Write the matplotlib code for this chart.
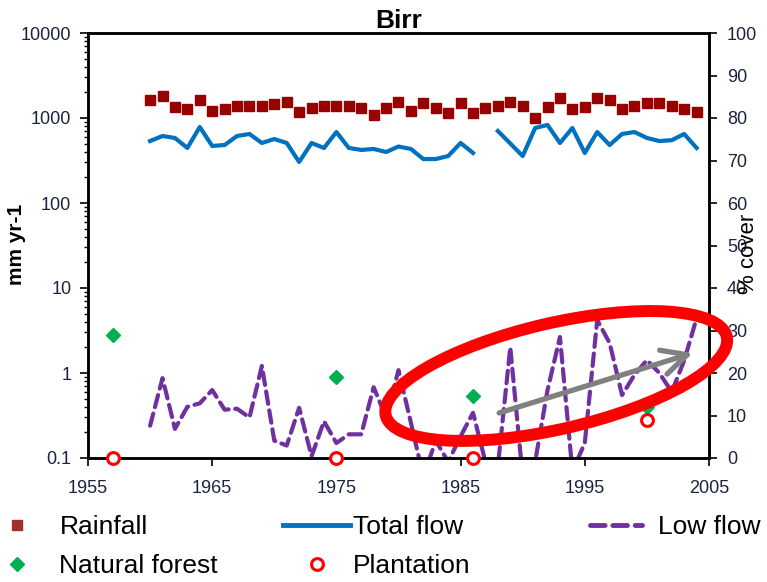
# Birr catchment: rainfall, flows and forest cover
import numpy as np
import matplotlib
matplotlib.use('Agg')
import matplotlib.pyplot as plt
from matplotlib.patches import Ellipse
from matplotlib.lines import Line2D
from matplotlib.transforms import ScaledTranslation

plt.rcParams['font.family'] = ['Liberation Sans', 'DejaVu Sans']

years = list(range(1960, 2005))
rainfall = [1629, 1815, 1347, 1276, 1629, 1209, 1276, 1385, 1385, 1385,
            1461, 1542, 1176, 1311, 1385, 1385, 1385, 1311, 1099, 1311,
            1555, 1209, 1489, 1322, 1154, 1489, 1154, 1322, 1403, 1555,
            1396, 991, 1336, 1706, 1266, 1336, 1706, 1629, 1266, 1396,
            1489, 1489, 1396, 1266, 1186]
total_flow = [536, 614, 582, 444, 784, 469, 481, 614, 649, 508,
              566, 508, 304, 508, 444, 684, 444, 421, 432, 398,
              462, 432, 329, 329, 357, 508, 388, np.nan, 703, 501,
              357, 763, 828, 508, 763, 388, 684, 481, 649, 684,
              582, 536, 548, 649, 444]
low_flow = [0.24, 0.87, 0.22, 0.40, 0.44, 0.63, 0.37, 0.38, 0.30, 1.21,
            0.16, 0.14, 0.39, 0.105, 0.27, 0.15, 0.19, 0.19, 0.68, 0.30,
            1.08, 0.26, 0.06, 0.16, 0.09, 0.18, 0.34, 0.09, 0.08, 2.0,
            0.06, 0.09, 0.63, 2.65, 0.07, 0.15, 4.2, 2.25, 0.55, 0.95,
            1.42, 1.0, 0.6, 1.4, 4.4]

cover_years = [1957, 1975, 1986, 2000]
natural_forest = [29, 19, 14.5, 12]
plantation = [0, 0, 0, 9]

xticks = [1955, 1965, 1975, 1985, 1995, 2005]
left_ticks = [0.1, 1, 10, 100, 1000, 10000]
left_labels = ['0.1', '1', '10', '100', '1000', '10000']

tick_color = '#1c2340'
narrow = ['Liberation Sans Narrow', 'Liberation Sans', 'DejaVu Sans']

fig = plt.figure(figsize=(7.67, 5.82), dpi=100)
ax = fig.add_axes([88/767, 124/582, 621/767, 425/582])
ax2 = ax.twinx()

ax.plot(years, rainfall, 's', color='#990000', markersize=7.5, linestyle='none', label='Rainfall')
ax.plot(years, total_flow, '-', color='#0070C0', lw=3, label='Total flow')
ax.plot(years, low_flow, color='#7030A0', lw=3, dashes=(3, 1.6), dash_capstyle='round',
        label='Low flow')

ax.set_yscale('log')
ax.set_ylim(0.1, 10000)
ax.set_xlim(1955, 2005)
ax.set_xticks(xticks)
ax.set_yticks(left_ticks)
ax.set_yticklabels(left_labels)
ax.tick_params(axis='both', which='major', direction='out', length=6, width=1.2,
               labelsize=13, labelcolor=tick_color)
ax.tick_params(axis='x', pad=10)
ax.tick_params(axis='y', pad=6)
ax.tick_params(axis='y', which='minor', direction='out', length=3, width=1)

ax2.plot(cover_years, natural_forest, 'D', color='#00B050', markersize=7.5, linestyle='none',
         label='Natural forest')
ax2.plot(cover_years, plantation, 'o', mfc='white', mec='#FF0000', mew=2.2, markersize=8.5,
         linestyle='none', clip_on=False, zorder=5, label='Plantation')
ax2.set_ylim(0, 100)
ax2.set_yticks(range(0, 101, 10))
ax2.tick_params(axis='y', direction='out', length=6, width=1.2, labelsize=13,
                labelcolor=tick_color, pad=7)

for a in (ax, ax2):
    for s in a.spines.values():
        s.set_linewidth(1.8)
        s.set_color('black')

ax.set_title('Birr', fontsize=19, fontweight='bold', family=narrow, pad=2)
fig.text(17/767, 1 - 244/582, 'mm yr-1', rotation=90, ha='center', va='center',
         fontsize=15, fontweight='bold')
fig.text(749/767, 1 - 254/582, '% cover', rotation=90, ha='center', va='center',
         fontsize=16)

# highlight of the rising low flows
dpi = fig.dpi
trans = fig.dpi_scale_trans + ScaledTranslation(1992.7, 19.3, ax2.transData)
ell = Ellipse((0, 0), 350/dpi, 106/dpi, angle=13, transform=trans, fill=False,
              edgecolor='#FF0000', lw=8.6, clip_on=False, zorder=6)
ax2.add_patch(ell)
ax2.annotate('', xy=(2003.7, 24.7), xytext=(1988.1, 10.6),
             arrowprops=dict(arrowstyle='->,head_length=0.9,head_width=0.45',
                             mutation_scale=20, lw=3.8, color='#808080',
                             shrinkA=0, shrinkB=0), zorder=7)

# legend in three columns like the original
h_rain = Line2D([], [], marker='s', color='#A0302A', markersize=7, linestyle='none')
h_forest = Line2D([], [], marker='D', color='#00B050', markersize=7.5, linestyle='none')
h_total = Line2D([], [], color='#0070C0', lw=3.5)
h_plant = Line2D([], [], marker='o', mfc='white', mec='#FF0000', mew=2.2, markersize=8.5,
                 linestyle='none')
h_low = Line2D([], [], color='#7030A0', lw=3.5, dashes=(3, 1.6), dash_capstyle='round')

lg_kw = dict(frameon=False, loc='upper left', borderpad=0, borderaxespad=0,
             labelspacing=0.56, prop={'family': narrow, 'size': 19})
fig.legend([h_rain, h_forest], ['Rainfall', 'Natural forest'],
           bbox_to_anchor=(4/767, 1 - 515/582), handlelength=1.0, handletextpad=1.1, **lg_kw)
fig.legend([h_total, h_plant], ['Total flow', 'Plantation'],
           bbox_to_anchor=(283/767, 1 - 515/582), handlelength=2.54, handletextpad=0.1, **lg_kw)
fig.legend([h_low], ['Low flow'],
           bbox_to_anchor=(590/767, 1 - 515/582), handlelength=1.97, handletextpad=0.6, **lg_kw)

fig.savefig('out.png', dpi=100)
